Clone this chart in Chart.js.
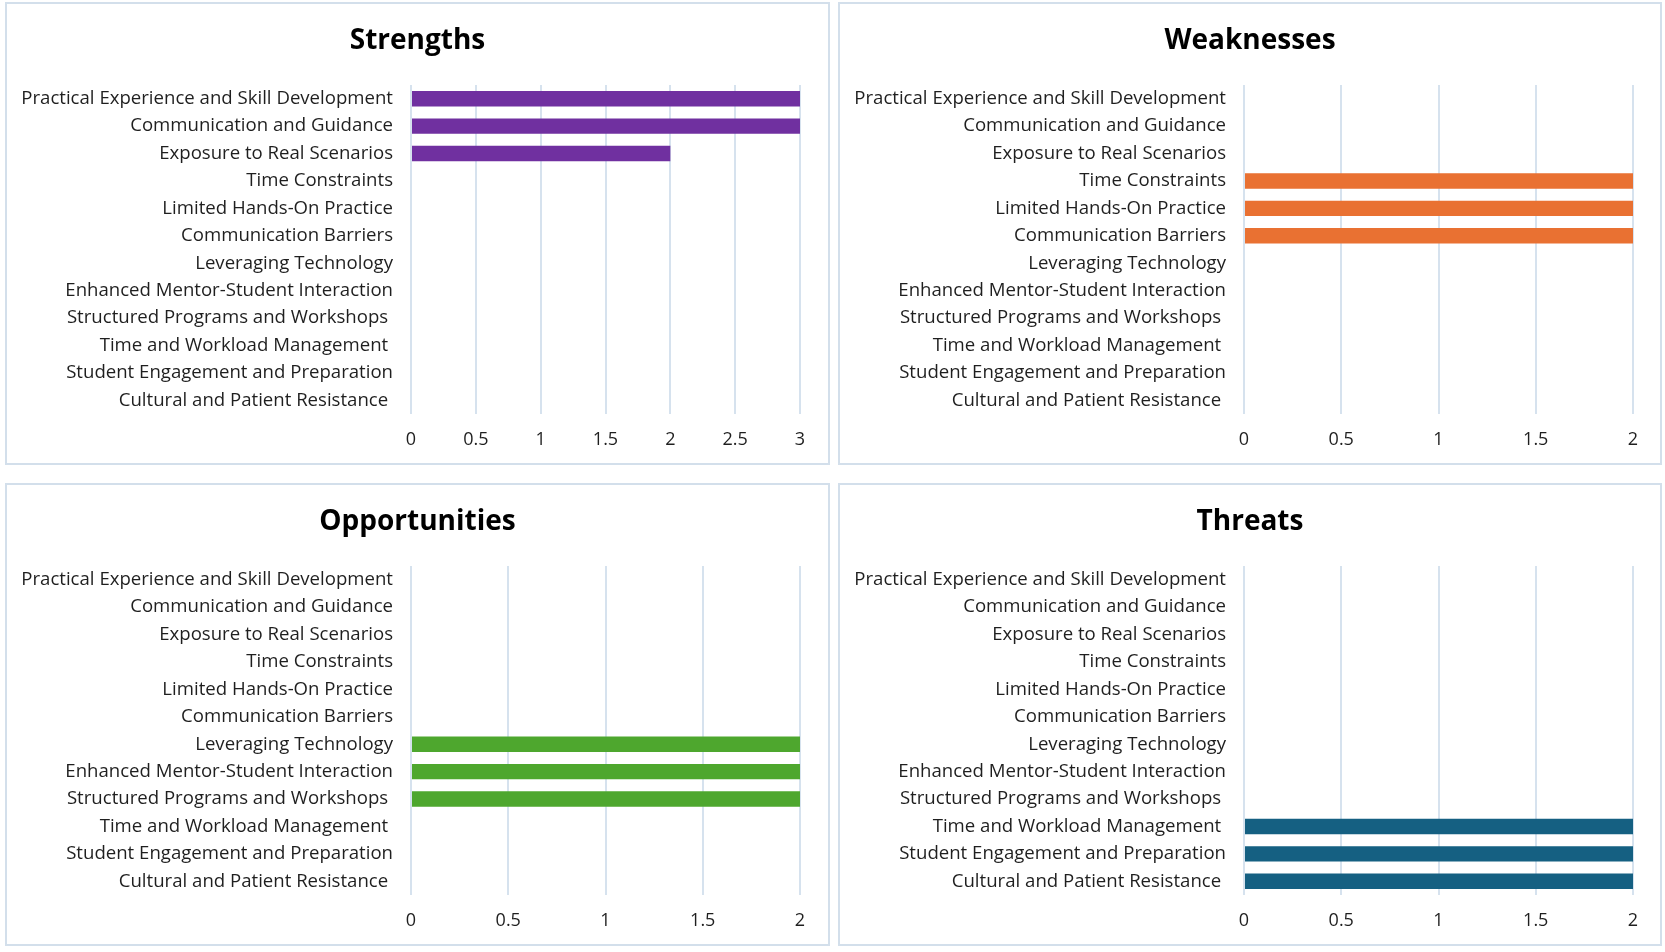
<!DOCTYPE html>
<html>
<head>
<meta charset="utf-8">
<script src="https://cdn.jsdelivr.net/npm/chart.js@4.4.1/dist/chart.umd.min.js"></script>
<style>
  body { margin: 0; background: #fff; width: 1665px; height: 952px; position: relative; overflow: hidden; }
  .panel { position: absolute; border: 2px solid #d3dfeb; box-sizing: border-box; background: #fff; }
  .panel canvas { display: block; }
</style>
</head>
<body>
<div class="panel" style="left:5px;top:2px;width:825px;height:463px"><canvas id="strengths" width="821" height="459"></canvas></div>
<div class="panel" style="left:838px;top:2px;width:824px;height:463px"><canvas id="weaknesses" width="820" height="459"></canvas></div>
<div class="panel" style="left:5px;top:483px;width:825px;height:463px"><canvas id="opportunities" width="821" height="459"></canvas></div>
<div class="panel" style="left:838px;top:483px;width:824px;height:463px"><canvas id="threats" width="820" height="459"></canvas></div>
<script>
const categories = [
  "Practical Experience and Skill Development",
  "Communication and Guidance",
  "Exposure to Real Scenarios",
  "Time Constraints",
  "Limited Hands-On Practice",
  "Communication Barriers",
  "Leveraging Technology",
  "Enhanced Mentor-Student Interaction",
  "Structured Programs and Workshops ",
  "Time and Workload Management ",
  "Student Engagement and Preparation",
  "Cultural and Patient Resistance "
];

const strengthsValues     = [3, 3, 2, 0, 0, 0, 0, 0, 0, 0, 0, 0];
const weaknessesValues    = [0, 0, 0, 2, 2, 2, 0, 0, 0, 0, 0, 0];
const opportunitiesValues = [0, 0, 0, 0, 0, 0, 2, 2, 2, 0, 0, 0];
const threatsValues       = [0, 0, 0, 0, 0, 0, 0, 0, 0, 2, 2, 2];

const strengthsMax = 3;
const otherMax = 2;
const tickStep = 0.5;

const FONT = "'Open Sans', sans-serif";
const gridColor = "#d6e2ee";
const textColor = "#1f1f1f";

// title centred on the whole panel, not on the plot area
const panelTitle = {
  id: "panelTitle",
  afterDraw(chart, args, opts) {
    const ctx = chart.ctx;
    ctx.save();
    ctx.font = "bold 28px " + FONT;
    ctx.fillStyle = "#000";
    ctx.textAlign = "center";
    ctx.textBaseline = "middle";
    ctx.fillText(opts.text, chart.width / 2, 37);
    ctx.restore();
  }
};

function makeChart(id, title, values, color, xMax) {
  const canvas = document.getElementById(id);
  const rightPad = canvas.width - 793;
  return new Chart(canvas, {
    type: "bar",
    plugins: [panelTitle],
    data: {
      labels: categories,
      datasets: [{
        data: values,
        backgroundColor: color,
        borderWidth: 0,
        barPercentage: 0.56,
        categoryPercentage: 1.0
      }]
    },
    options: {
      indexAxis: "y",
      responsive: false,
      animation: false,
      layout: { padding: { left: 0, right: rightPad, top: 81, bottom: 0 } },
      plugins: {
        legend: { display: false },
        tooltip: { enabled: false },
        title: { display: false },
        panelTitle: { text: title }
      },
      scales: {
        x: {
          min: 0,
          max: xMax,
          afterFit(scale) { scale.height = 49; },
          ticks: {
            stepSize: tickStep,
            color: textColor,
            padding: 15,
            font: { family: FONT, size: 18 },
            callback: (v) => String(v)
          },
          grid: { color: gridColor, lineWidth: 2, drawTicks: false },
          border: { display: false }
        },
        y: {
          afterFit(scale) {
            scale.width = 404;
            scale.paddingTop = 0;
            scale.paddingBottom = 0;
          },
          ticks: {
            color: textColor,
            padding: 18,
            autoSkip: false,
            font: { family: FONT, size: 18.6 }
          },
          grid: { display: false, drawTicks: false },
          border: { display: false }
        }
      }
    }
  });
}

makeChart("strengths", "Strengths", strengthsValues, "#7030a0", strengthsMax);
makeChart("weaknesses", "Weaknesses", weaknessesValues, "#e97132", otherMax);
makeChart("opportunities", "Opportunities", opportunitiesValues, "#4ea72e", otherMax);
makeChart("threats", "Threats", threatsValues, "#156082", otherMax);
</script>
</body>
</html>
